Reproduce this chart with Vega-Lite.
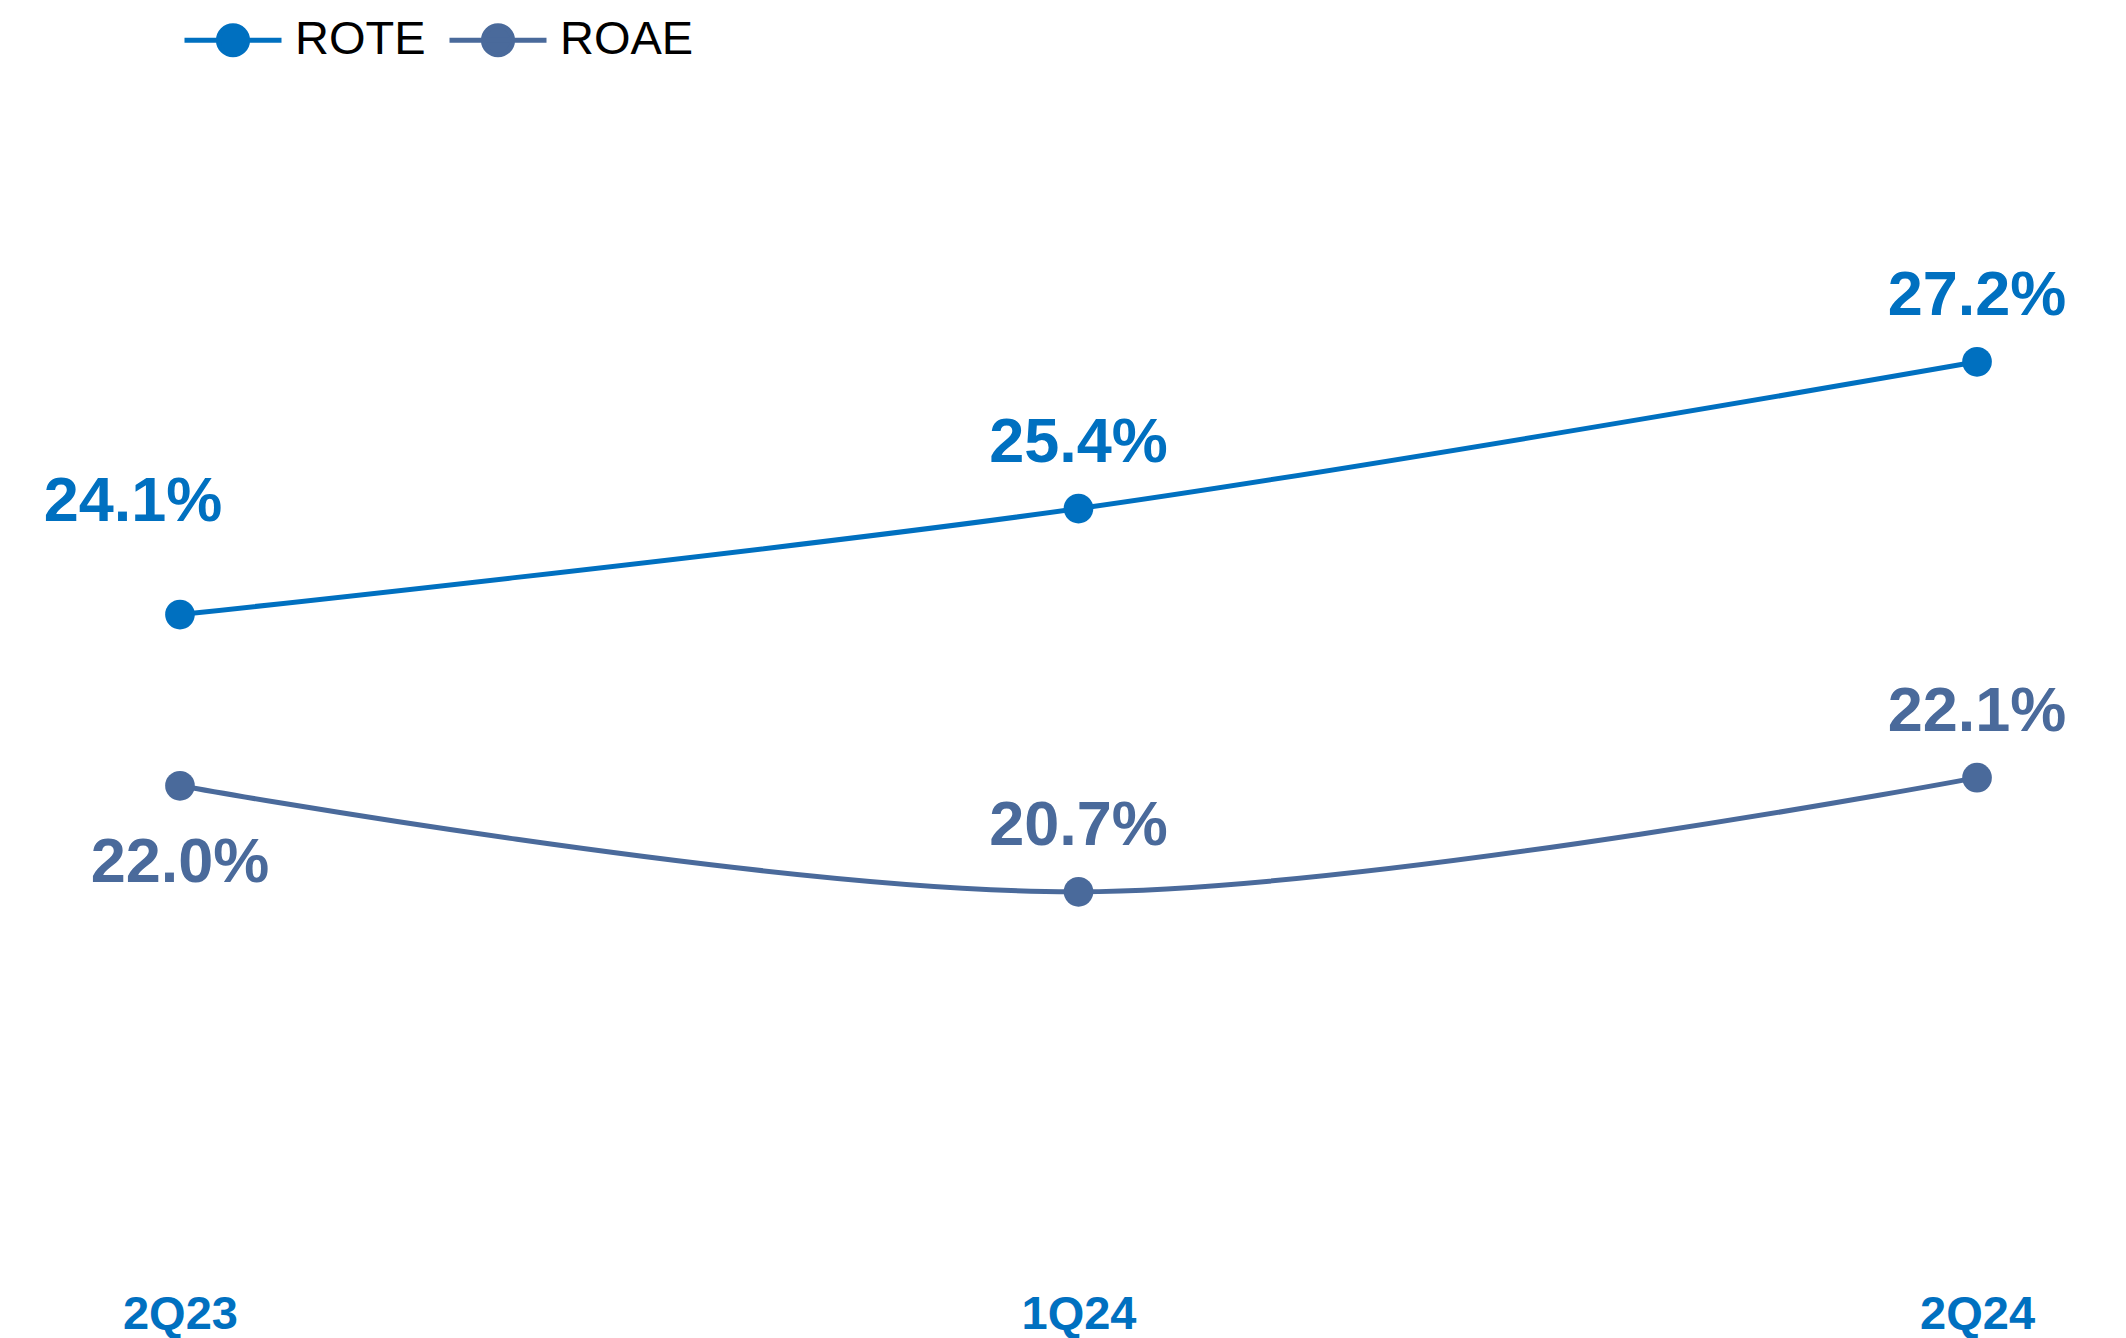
{
  "$schema": "https://vega.github.io/schema/vega-lite/v6.json",
  "width": 2127,
  "height": 1223,
  "autosize": {"type": "none"},
  "padding": {"left": 15, "top": 52, "right": 0, "bottom": 63},
  "background": "white",
  "config": {"view": {"stroke": null}},
  "data": {
    "values": [
      {"quarter": "2Q23", "series": "ROTE", "value": 0.241},
      {"quarter": "1Q24", "series": "ROTE", "value": 0.254},
      {"quarter": "2Q24", "series": "ROTE", "value": 0.272},
      {"quarter": "2Q23", "series": "ROAE", "value": 0.220},
      {"quarter": "1Q24", "series": "ROAE", "value": 0.207},
      {"quarter": "2Q24", "series": "ROAE", "value": 0.221}
    ]
  },
  "encoding": {
    "x": {
      "field": "quarter", "type": "ordinal", "sort": ["2Q23", "1Q24", "2Q24"],
      "scale": {"type": "point", "padding": 0.1836},
      "axis": {"title": null, "domain": false, "ticks": false, "grid": false, "labelAngle": 0,
        "labelFont": "Liberation Sans", "labelFontWeight": "bold", "labelFontSize": 47,
        "labelColor": "#0070C0", "labelPadding": 16, "labelBaseline": "top"}
    },
    "y": {
      "field": "value", "type": "quantitative",
      "scale": {"domain": [0.16, 0.31], "zero": false, "nice": false},
      "axis": null
    },
    "color": {
      "field": "series", "type": "nominal",
      "scale": {"domain": ["ROTE", "ROAE"], "range": ["#0070C0", "#4A6A9B"]},
      "legend": {
        "title": null, "orient": "none", "direction": "horizontal",
        "legendX": 167, "legendY": -63,
        "symbolType": "M -1 0 L 1 0 M -0.3 0 A 0.3 0.3 0 1 0 0.3 0 A 0.3 0.3 0 1 0 -0.3 0 Z",
        "symbolSize": 9409, "symbolStrokeWidth": 5, "symbolOpacity": 1,
        "labelFont": "Liberation Sans", "labelFontSize": 47, "labelColor": "black",
        "labelOffset": 11, "columnPadding": 13,
        "encode": {"symbols": {"update": {"fill": {"scale": "color", "field": "value"}, "stroke": {"scale": "color", "field": "value"}, "opacity": {"value": 1}}}}
      }
    }
  },
  "layer": [
    {"mark": {"type": "line", "interpolate": "cardinal", "strokeWidth": 5}},
    {"mark": {"type": "circle", "size": 880, "opacity": 1}},
    {
      "transform": [{"filter": "!(datum.quarter === '2Q23')"}],
      "mark": {"type": "text", "font": "Liberation Sans", "fontWeight": "bold", "fontSize": 63, "baseline": "alphabetic", "align": "center", "dy": -47},
      "encoding": {"text": {"field": "value", "type": "quantitative", "format": ".1%"}}
    },
    {
      "transform": [{"filter": "datum.quarter === '2Q23' && datum.series === 'ROTE'"}],
      "mark": {"type": "text", "font": "Liberation Sans", "fontWeight": "bold", "fontSize": 63, "baseline": "alphabetic", "align": "center", "dx": -47, "dy": -94},
      "encoding": {"text": {"field": "value", "type": "quantitative", "format": ".1%"}}
    },
    {
      "transform": [{"filter": "datum.quarter === '2Q23' && datum.series === 'ROAE'"}],
      "mark": {"type": "text", "font": "Liberation Sans", "fontWeight": "bold", "fontSize": 63, "baseline": "alphabetic", "align": "center", "dy": 96},
      "encoding": {"text": {"field": "value", "type": "quantitative", "format": ".1%"}}
    }
  ]
}
